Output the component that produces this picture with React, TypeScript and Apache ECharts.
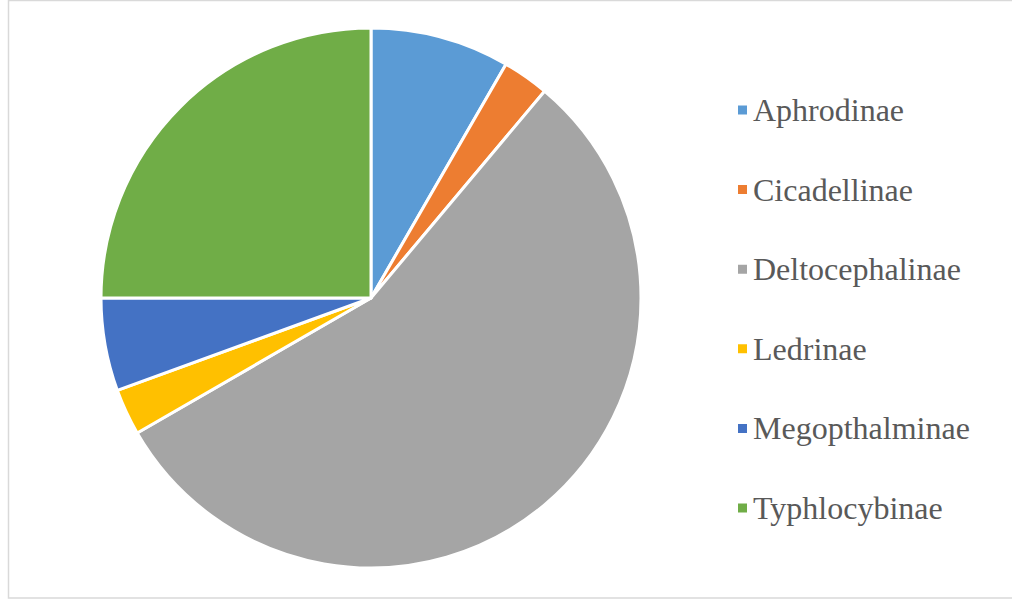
import React, { useEffect, useRef } from "react";
import * as echarts from "echarts";

const categories = ["Aphrodinae", "Cicadellinae", "Deltocephalinae", "Ledrinae", "Megopthalminae", "Typhlocybinae"];
const values = [3, 1, 20, 1, 2, 9];
const colors = ["#5B9BD5", "#ED7D31", "#A5A5A5", "#FFC000", "#4472C4", "#70AD47"];

export default function App() {
  const ref = useRef<HTMLDivElement>(null);
  useEffect(() => {
    if (!ref.current) return;
    const chart = echarts.init(ref.current, undefined, { renderer: "svg" });
    chart.setOption({
      animation: false,
      backgroundColor: "#ffffff",
      color: colors,
      graphic: [
        {
          type: "rect",
          shape: { x: 8.5, y: 0.5, width: 1010, height: 597.5 },
          style: { fill: "none", stroke: "#d9d9d9", lineWidth: 1.5 },
          silent: true,
        },
      ],
      legend: {
        orient: "vertical",
        left: 731,
        top: 89,
        icon: "rect",
        itemWidth: 11,
        itemHeight: 11,
        itemGap: 47.6,
        selectedMode: false,
        textStyle: {
          fontFamily: "Liberation Serif",
          fontSize: 32,
          lineHeight: 32,
          color: "#595959",
          padding: [0, 0, 0, 0],
        },
        data: categories,
      },
      series: [
        {
          type: "pie",
          center: [371, 298],
          radius: 270,
          startAngle: 90,
          clockwise: true,
          label: { show: false },
          labelLine: { show: false },
          itemStyle: { borderColor: "#ffffff", borderWidth: 3 },
          emphasis: { disabled: true },
          data: categories.map((name, i) => ({ name, value: values[i] })),
        },
      ],
    });
    return () => chart.dispose();
  }, []);
  return <div ref={ref} style={{ position: "fixed", left: 0, top: 0, width: 1012, height: 603 }} />;
}
